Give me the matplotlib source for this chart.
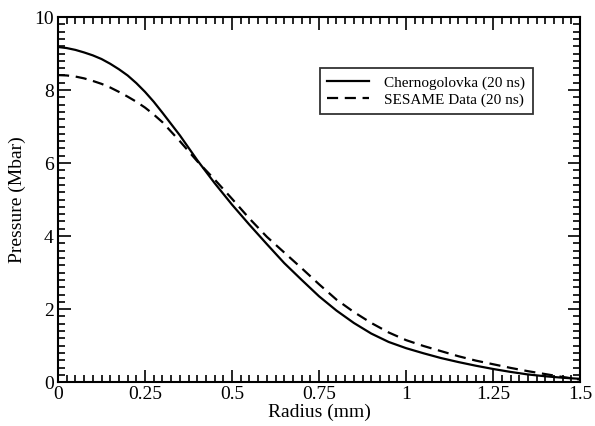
"""
Pressure vs radius, Chernogolovka vs SESAME at 20 ns.
"""
import matplotlib
matplotlib.use('Agg')
from matplotlib import pyplot as plt
from matplotlib.ticker import MultipleLocator, FuncFormatter

plt.rcParams['font.family'] = ['Liberation Serif', 'DejaVu Serif']

radius_cherno = [0.000, 0.025, 0.050, 0.075, 0.100, 0.125, 0.150, 0.175,
                 0.200, 0.225, 0.250, 0.275, 0.300, 0.350, 0.400, 0.450,
                 0.500, 0.550, 0.600, 0.650, 0.700, 0.750, 0.800, 0.850,
                 0.900, 0.950, 1.000, 1.050, 1.100, 1.150, 1.200, 1.250,
                 1.300, 1.350, 1.400, 1.450, 1.500]
pressure_cherno = [9.18, 9.15, 9.10, 9.03, 8.95, 8.85, 8.72, 8.57,
                   8.40, 8.19, 7.95, 7.68, 7.38, 6.76, 6.08, 5.45,
                   4.86, 4.31, 3.78, 3.26, 2.80, 2.35, 1.96, 1.62,
                   1.33, 1.10, 0.93, 0.79, 0.66, 0.55, 0.45, 0.36,
                   0.28, 0.21, 0.16, 0.12, 0.09]

radius_sesame = radius_cherno
pressure_sesame = [8.41, 8.40, 8.37, 8.32, 8.25, 8.17, 8.07, 7.95,
                   7.82, 7.68, 7.52, 7.33, 7.12, 6.60, 6.05, 5.55,
                   5.02, 4.48, 3.98, 3.55, 3.12, 2.68, 2.26, 1.92,
                   1.62, 1.36, 1.15, 0.99, 0.85, 0.71, 0.59, 0.49,
                   0.39, 0.30, 0.22, 0.14, 0.07]

fig = plt.figure(figsize=(5.95, 4.26), dpi=100)
ax = fig.add_axes([0.0975, 0.103, 0.8775, 0.857])

ax.plot(radius_cherno, pressure_cherno, color='black', lw=1.6,
        label='Chernogolovka (20 ns)')
ax.plot(radius_sesame, pressure_sesame, color='black', lw=1.6,
        linestyle=(0, (5, 3)), label='SESAME Data (20 ns)')

ax.set_xlim(0, 1.5)
ax.set_ylim(0, 10)
ax.xaxis.set_major_locator(MultipleLocator(0.25))
ax.xaxis.set_minor_locator(MultipleLocator(0.025))
ax.yaxis.set_major_locator(MultipleLocator(2))
ax.yaxis.set_minor_locator(MultipleLocator(0.2))
ax.xaxis.set_major_formatter(FuncFormatter(lambda v, p: ('%g' % v)))
ax.tick_params(which='both', direction='in', top=True, right=True,
               width=1.2, labelsize=14)
ax.tick_params(which='major', length=9, pad=3)
ax.tick_params(which='minor', length=5)
for s in ax.spines.values():
    s.set_linewidth(1.5)

ax.set_xlabel('Radius (mm)', fontsize=14, labelpad=0)
ax.set_ylabel('Pressure (Mbar)', fontsize=14, labelpad=6)

leg = ax.legend(loc='upper right', bbox_to_anchor=(0.91, 0.86), fontsize=11,
                frameon=True, fancybox=False, edgecolor='black',
                handlelength=2.75, handletextpad=1.0, borderpad=0.5,
                labelspacing=0.2, borderaxespad=0)
leg.get_frame().set_linewidth(1.3)

plt.savefig('out.png', dpi=100)
